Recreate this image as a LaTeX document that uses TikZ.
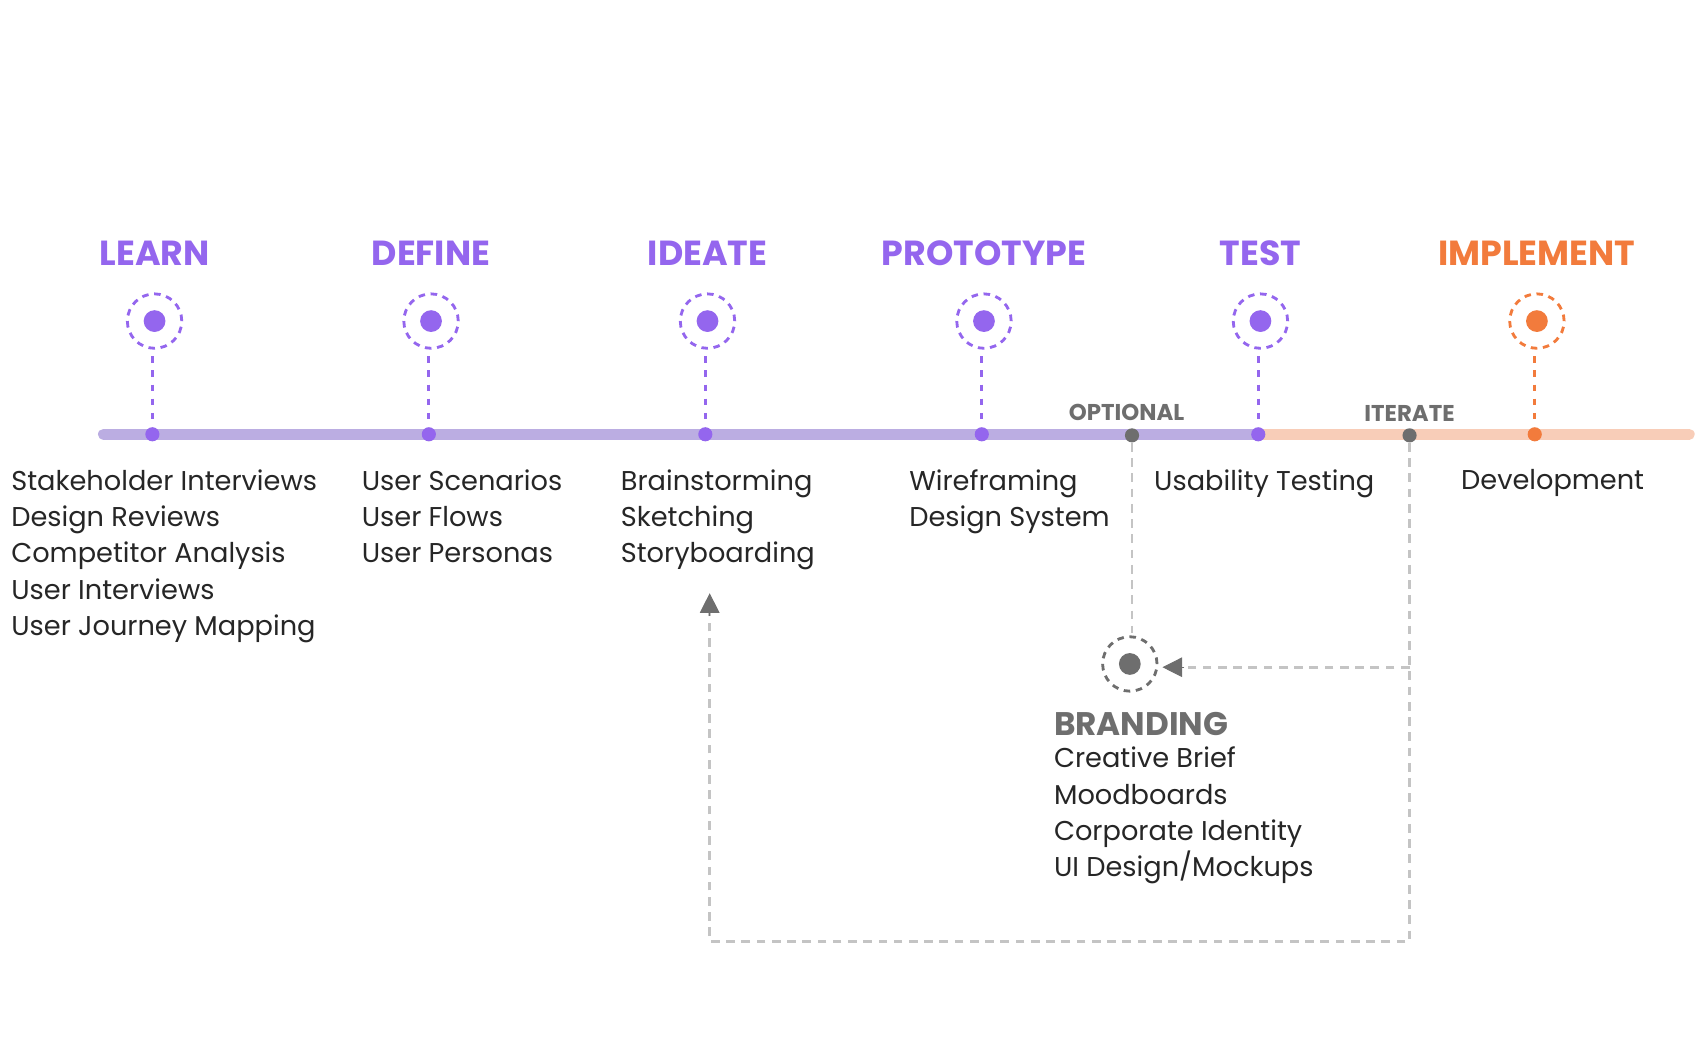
\documentclass[tikz,border=0pt]{standalone}
\usepackage{fontspec}
\setmainfont{Poppins}
\usetikzlibrary{arrows.meta}
\definecolor{pur}{HTML}{9466EE}
\definecolor{purl}{HTML}{BBADE2}
\definecolor{org}{HTML}{F27B3C}
\definecolor{orgl}{HTML}{F8CDB8}
\definecolor{gr}{HTML}{6E6E6E}
\definecolor{grl}{HTML}{C4C4C4}
\begin{document}
\begin{tikzpicture}[x=0.5pt,y=-0.5pt,
  title/.style={font=\fontsize{16}{18}\selectfont\bfseries},
  lst/.style={anchor=north west,align=left,inner sep=0pt,font=\fontsize{12.5}{16.7}\selectfont,text=black!85},
  ring/.style={circle,draw,dashed,dash pattern=on 3pt off 2.6pt,line width=1.3pt,minimum size=25pt,inner sep=0pt},
  dot/.style={circle,fill,minimum size=10pt,inner sep=0pt},
  tdot/.style={circle,fill,minimum size=6.5pt,inner sep=0pt},
  stem/.style={dash pattern=on 3pt off 3.5pt,line width=1.3pt},
  loop/.style={grl,dash pattern=on 4pt off 3pt,line width=1.3pt}]
\useasboundingbox (0,0) rectangle (1560,977);
% timeline
\draw[purl,line width=5pt,line cap=round] (95,399) -- (1156,399);
\draw[orgl,line width=5pt,line cap=round] (1156,399) -- (1552,399);
\foreach \n/\x/\c/\t in {learn/142/pur/LEARN,define/396/pur/DEFINE,ideate/650/pur/IDEATE,proto/904/pur/PROTOTYPE,test/1158/pur/TEST,impl/1412/org/IMPLEMENT}{
  \node[title,text=\c] (\n-t) at (\x,233) {\t};
  \node[ring,draw=\c] (\n-r) at (\x,295) {};
  \node[dot,fill=\c] (\n-d) at (\x,295) {};
  \node[tdot,fill=\c] (\n-p) at (\x-2,399) {};
  \draw[stem,\c] (\n-r.south) ++(-2,6) coordinate (\n-s) -- (\n-p);
}
\node[tdot,fill=gr] (opt) at (1040,400) {};
\node[tdot,fill=gr] (it) at (1295,400) {};
\node[font=\fontsize{10.5}{12}\selectfont\bfseries,text=gr] (optl) at (1035,379) {OPTIONAL};
\node[font=\fontsize{10.5}{12}\selectfont\bfseries,text=gr] (itl) at (1295,380) {ITERATE};
% branding
\node[ring,draw=gr] (br) at (1038,610) {};
\node[dot,fill=gr] (brd) at (1038,610) {};
\draw[loop] (opt) -- (1040,582) coordinate (os);
\draw[loop] (it) -- (1295,865) coordinate (c1) -- (652,865) coordinate (c2) -- (652,562) coordinate (ie);
\draw[gr,-{Triangle[length=9pt,width=9pt]}] (652,566) -- (652,545) coordinate (ia);
\draw[loop] (1295,613) coordinate (m1) -- (1085,613) coordinate (m2);
\draw[gr,-{Triangle[length=9pt,width=9pt]}] (1088,613) -- (1068,613) coordinate (ma);
\node[anchor=west,inner sep=0pt,font=\fontsize{15}{18}\selectfont\bfseries,text=gr] (brt) at (968,665) {BRANDING};
\node[lst] (brl) at (968,686) {Creative Brief\\Moodboards\\Corporate Identity\\UI Design/Mockups};
% lists
\node[lst] (l1) at (10,431) {Stakeholder Interviews\\Design Reviews\\Competitor Analysis\\User Interviews\\User Journey Mapping};
\node[lst] (l2) at (332,431) {User Scenarios\\User Flows\\User Personas};
\node[lst] (l3) at (570,431) {Brainstorming\\Sketching\\Storyboarding};
\node[lst] (l4) at (835,431) {Wireframing\\Design System};
\node[lst] (l5) at (1060,431) {Usability Testing};
\node[lst] (l6) at (1342,431) {Development};
\end{tikzpicture}
\end{document}
